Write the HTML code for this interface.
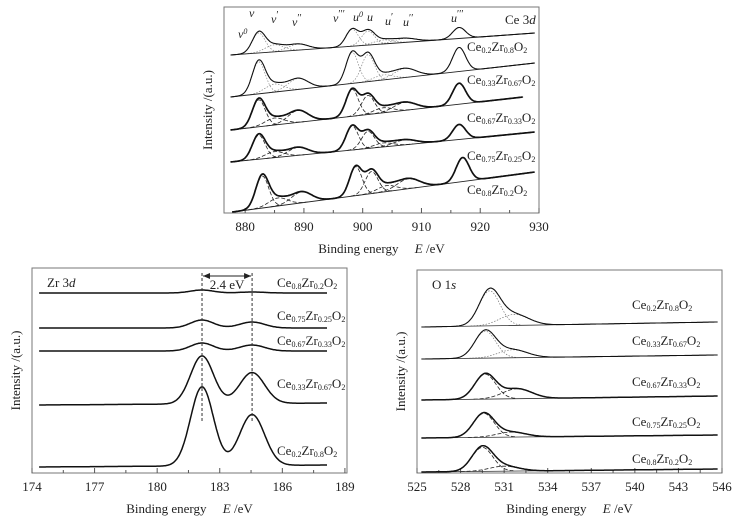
<!DOCTYPE html>
<html><head><meta charset="utf-8"><style>
body{margin:0;background:#fff}
svg{display:block;font-family:"Liberation Serif",serif;fill:#222}
text{fill:#222;white-space:pre}
</style></head><body>
<svg id="fig" width="747" height="520" viewBox="0 0 747 520">
<g id="top"></g>
<g id="zr"></g>
<g id="o"></g>
</svg>
<script>
// ---------- Ce 3d data ----------
const ceLabels = ["Ce0.2Zr0.8O2","Ce0.33Zr0.67O2","Ce0.67Zr0.33O2","Ce0.75Zr0.25O2","Ce0.8Zr0.2O2"];
const cePeakNames = ["v","v'","v''","v'''","u","u'","u''","u'''"];
const cePeakCenters = [882.3,885.0,889.0,898.2,900.9,903.5,907.2,916.4];
const cePeakSigmas = [1.1,1.6,1.7,1.05,1.1,1.6,1.9,1.1];
const ceAmp1 = [20,7,6,17,14,4,4,11];
const ceAmp2 = [32,8,11,31,27,5,9,24];
const ceAmp3 = [27,7,12,27,19,5,8,21];
const ceAmp4 = [24,6,8,24,17,4,5,15];
const ceAmp5 = [32,8,11,29,22,6,10,24];
const ceShift = [0,0,0,0,0.6];
const ceBaseStart = [158,116,83,51,1];
const ceBaseEnd = [180,150,116,81,41];
const ceRangeStart = [877.5,877.5,877.5,877.5,877.8];
const ceRangeEnd = [929.3,929.3,927.3,929.3,929.3];
const ceTicks = [880,890,900,910,920,930];
// ---------- Zr 3d data ----------
const zrLabels = ["Ce0.8Zr0.2O2","Ce0.75Zr0.25O2","Ce0.67Zr0.33O2","Ce0.33Zr0.67O2","Ce0.2Zr0.8O2"];
const zrCenters = [182.15,184.55];
const zrAmpA = [3,8,8,48,79];
const zrAmpB = [1,6,6,31,51];
const zrBaseStart = [180,145,122,68,6];
const zrBaseEnd = [180,145,122,70,8];
const zrTicks = [174,177,180,183,186,189];
// ---------- O 1s data ----------
const oLabels = ["Ce0.2Zr0.8O2","Ce0.33Zr0.67O2","Ce0.67Zr0.33O2","Ce0.75Zr0.25O2","Ce0.8Zr0.2O2"];
const oMainCenter = [530.0,529.7,529.7,529.6,529.5];
const oMainAmp = [35,27,25,24,24];
const oShCenter = [531.7,531.6,531.9,531.5,531.0];
const oShAmp = [11,8,10,5,5];
const oBaseStart = [146,114,73,35,1];
const oBaseEnd = [151,118,77,38,4];
const oTicks = [525,528,531,534,537,540,543,546];

const NS="http://www.w3.org/2000/svg";
function el(parent,tag,attrs,txt){const e=document.createElementNS(NS,tag);for(const k in attrs)e.setAttribute(k,attrs[k]);if(txt!==undefined)e.textContent=txt;parent.appendChild(e);return e;}
function gauss(x,c,a,s){return a*Math.exp(-(x-c)*(x-c)/(2*s*s));}
function formula(g,x,y,label,fs,name){
  const t=el(g,'text',{x:x,y:y,'font-size':fs});
  
  
  const m=label.match(/Ce([\d.]+)Zr([\d.]+)O2/);
  const parts=[["Ce",0],[m[1],1],["Zr",0],[m[2],1],["O",0],["2",1]];
  parts.forEach(p=>{const ts=el(t,'tspan',{});ts.textContent=p[0];if(p[1]){ts.setAttribute('font-size',fs*0.62);ts.setAttribute('baseline-shift','-25%');}});
}
function panel(g,L,R,T,B,x0,x1,ticks,minor,name){
  const xs=v=>L+(v-x0)/(x1-x0)*(R-L);
  const box=el(g,'rect',{x:L,y:T,width:R-L,height:B-T,fill:'none',stroke:'#777','stroke-width':1});
  
  
  ticks.forEach(v=>{
    const tk=el(g,'line',{x1:xs(v),x2:xs(v),y1:B,y2:B-5,stroke:'#555'});
    
    
    const tl=el(g,'text',{x:xs(v),y:B+18,'font-size':13,'text-anchor':'middle'},String(v));
    
    
  });
  for(let i=0;i<ticks.length-1;i++){const v=ticks[i]+minor;
    const tk=el(g,'line',{x1:xs(v),x2:xs(v),y1:B,y2:B-3,stroke:'#555'});
    
    }
  const xt=el(g,'text',{x:(L+R)/2,y:B+40,'font-size':13,'text-anchor':'middle'});
  
  
  el(xt,'tspan',{},'Binding energy\u00a0\u00a0\u00a0\u00a0\u00a0');el(xt,'tspan',{'font-style':'italic'},'E');el(xt,'tspan',{},'\u00a0/eV');
  const yt=el(g,'text',{x:0,y:0,'font-size':13,'text-anchor':'middle',transform:`translate(${L-12},${(T+B)/2}) rotate(-90)`},'Intensity /(a.u.)');
  
  
  return xs;
}
function drawPath(g,pts,style,name){
  const d=pts.map((p,i)=>(i?'L':'M')+p[0].toFixed(1)+' '+p[1].toFixed(1)).join('');
  const p=el(g,'path',Object.assign({d:d,fill:'none'},style));
  
  
}
// ---------- top panel ----------
(function(){
  const g=document.getElementById('top');
  const L=224,R=539,T=7,B=213;
  const xs=panel(g,L,R,T,B,876.4,930,ceTicks,5,'ce3d');
  const ys=v=>B-v;
  const amps=[ceAmp1,ceAmp2,ceAmp3,ceAmp4,ceAmp5];
  amps.forEach((A,k)=>{
    const a=ceRangeStart[k],b=ceRangeEnd[k];
    const base=e=>ceBaseStart[k]+(ceBaseEnd[k]-ceBaseStart[k])*(e-a)/(b-a);
    const dark=k>=2;
    const compStyle=dark?{stroke:'#222','stroke-width':0.8,'stroke-dasharray':'4,2'}:{stroke:'#888','stroke-width':0.7,'stroke-dasharray':'1.5,1.5'};
    A.forEach((amp,j)=>{
      const c=cePeakCenters[j]+ceShift[k],s=cePeakSigmas[j];
      const pts=[];for(let e=c-3.2*s;e<=c+3.2*s;e+=0.1)pts.push([xs(e),ys(base(e)+gauss(e,c,amp,s))]);
      drawPath(g,pts,compStyle,'ce-component-'+(k+1));
    });
    drawPath(g,[[xs(a),ys(base(a))],[xs(b),ys(base(b))]],{stroke:'#222','stroke-width':0.9},'ce-baseline-'+(k+1));
    const pts=[];
    for(let e=a;e<=b;e+=0.1){let v=base(e);A.forEach((amp,j)=>v+=gauss(e,cePeakCenters[j]+ceShift[k],amp,cePeakSigmas[j]));pts.push([xs(e),ys(v)]);}
    drawPath(g,pts,{stroke:'#111','stroke-width':dark?1.7:1.1},'ce-spectrum-'+(k+1));
  });
  const ly=[51,84,122,160,194];
  ceLabels.forEach((l,k)=>formula(g,467,ly[k],l,13,'ce-sample-label'));
  const t=el(g,'text',{x:505,y:24,'font-size':13});
  
  
  el(t,'tspan',{},'Ce 3');el(t,'tspan',{'font-style':'italic'},'d');
  const pl=[["v","0",238,38],["v","",249,17],["v","'",271,23],["v","''",292,26],["v","'''",333,22],["u","0",353,21],["u","",367,21],["u","'",385,25],["u","''",403,26],["u","'''",451,22]];
  pl.forEach(p=>{const t=el(g,'text',{x:p[2],y:p[3],'font-size':12,'font-style':'italic'});
    
    
    el(t,'tspan',{},p[0]);if(p[1]==="0")el(t,'tspan',{'font-size':8,'baseline-shift':'super'},'0');else if(p[1])el(t,'tspan',{'font-size':10,'baseline-shift':'super','font-style':'normal'},p[1].replace(/'/g,'\u2032'));});
})();
// ---------- Zr 3d ----------
(function(){
  const g=document.getElementById('zr');
  const L=32,R=347,T=268,B=473;
  const xs=panel(g,L,R,T,B,174,189.1,zrTicks,1.5,'zr3d');
  const ys=v=>B-v;
  zrLabels.forEach((l,k)=>{
    const a=174.34,b=188.15;
    const base=e=>zrBaseStart[k]+(zrBaseEnd[k]-zrBaseStart[k])*(e-a)/(b-a);
    const pts=[];
    for(let e=a;e<=b;e+=0.05){const v=base(e)+gauss(e,zrCenters[0],zrAmpA[k],0.55)+gauss(e,zrCenters[1],zrAmpB[k],0.6);pts.push([xs(e),ys(v)]);}
    drawPath(g,pts,{stroke:'#111','stroke-width':1.5},'zr-spectrum-'+(k+1));
  });
  zrCenters.forEach(c=>{const l=el(g,'line',{x1:xs(c),x2:xs(c),y1:273,y2:422,stroke:'#333','stroke-dasharray':'3,2'});
    
    });
  const ar=el(g,'line',{x1:xs(zrCenters[0])+1,x2:xs(zrCenters[1])-1,y1:276,y2:276,stroke:'#222'});
  
  
  el(g,'path',{d:`M${xs(zrCenters[0])+1} 276 l7 -3 v6 z M${xs(zrCenters[1])-1} 276 l-7 -3 v6 z`,fill:'#222'});
  const st=el(g,'text',{x:(xs(zrCenters[0])+xs(zrCenters[1]))/2,y:289,'font-size':13,'text-anchor':'middle'},'2.4 eV');
  
  
  const ly=[287,320,345,388,455];
  zrLabels.forEach((l,k)=>formula(g,277,ly[k],l,13,'zr-sample-label'));
  const t=el(g,'text',{x:47,y:287,'font-size':13});
  
  
  el(t,'tspan',{},'Zr 3');el(t,'tspan',{'font-style':'italic'},'d');
})();
// ---------- O 1s ----------
(function(){
  const g=document.getElementById('o');
  const L=417,R=722,T=270,B=473;
  const xs=panel(g,L,R,T,B,525,546,oTicks,1.5,'o1s');
  const ys=v=>B-v;
  oLabels.forEach((l,k)=>{
    const a=525.3,b=545.7;
    const base=e=>oBaseStart[k]+(oBaseEnd[k]-oBaseStart[k])*(e-a)/(b-a);
    const dark=k>=2;
    const cs=dark?{stroke:'#222','stroke-width':0.8,'stroke-dasharray':'4,2'}:{stroke:'#777','stroke-width':0.7,'stroke-dasharray':'1.5,1.5'};
    const comps=[[oMainCenter[k],oMainAmp[k],0.72],[oShCenter[k],oShAmp[k],1.0]];
    comps.forEach(c=>{const pts=[];for(let e=c[0]-3*c[2];e<=c[0]+3*c[2];e+=0.05)pts.push([xs(e),ys(base(e)+gauss(e,c[0],c[1],c[2]))]);drawPath(g,pts,cs,'o-component-'+(k+1));});
    drawPath(g,[[xs(a),ys(base(a))],[xs(b),ys(base(b))]],{stroke:'#333','stroke-width':0.8},'o-baseline-'+(k+1));
    const pts=[];
    for(let e=a;e<=b;e+=0.05){let v=base(e);comps.forEach(c=>v+=gauss(e,c[0],c[1],c[2]));pts.push([xs(e),ys(v)]);}
    drawPath(g,pts,{stroke:'#111','stroke-width':dark?1.5:1.1},'o-spectrum-'+(k+1));
  });
  const ly=[309,345,386,426,463];
  oLabels.forEach((l,k)=>formula(g,632,ly[k],l,13,'o-sample-label'));
  const t=el(g,'text',{x:432,y:289,'font-size':13});
  
  
  el(t,'tspan',{},'O 1');el(t,'tspan',{'font-style':'italic'},'s');
})();
</script>
</body></html>
